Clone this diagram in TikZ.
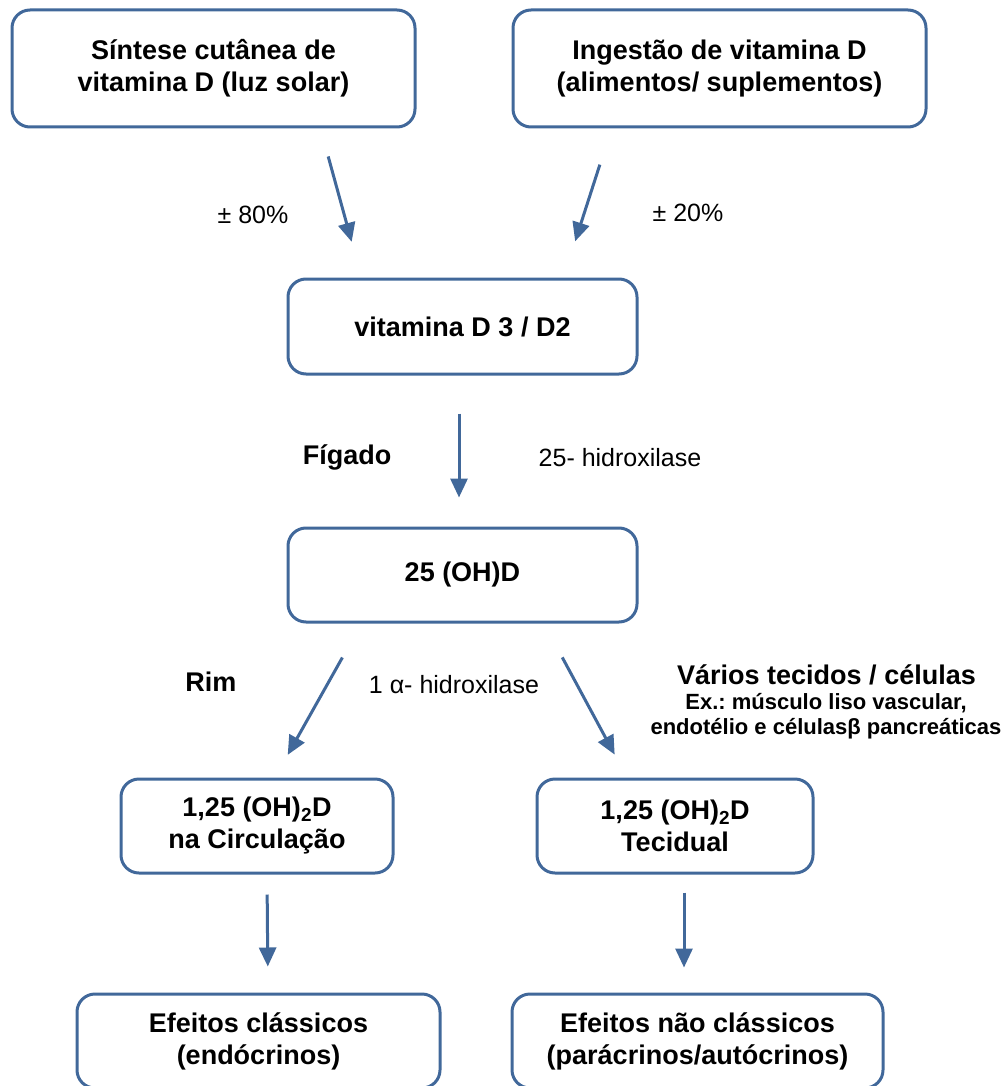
\documentclass[tikz,border=0pt]{standalone}
\usepackage{fontspec}
\setmainfont{Liberation Sans}
\usetikzlibrary{arrows.meta}
\definecolor{boxblue}{RGB}{65,104,154}
\frenchspacing
\tikzset{
	box/.style={draw=boxblue, line width=3pt, rounded corners=18pt, align=center,
		inner sep=0pt, font=\fontsize{27}{32}\selectfont\bfseries},
	arr/.style={draw=boxblue, line width=3pt, -{Triangle[length=19pt,width=17pt]}},
	lbl/.style={font=\fontsize{25}{30}\selectfont},
	blbl/.style={font=\fontsize{27}{32}\selectfont\bfseries},
}

\begin{document}
\begin{tikzpicture}[x=1pt, y=-1pt]
	\useasboundingbox (0,0) rectangle (1008,1086);
	% boxes
	\node [box, minimum width=403pt, minimum height=117pt] (sintese) at (213.5,68.5)
	{Síntese cutânea de\\vitamina D (luz solar)};
	\node [box, minimum width=413pt, minimum height=117pt] (ingestao) at (719.5,68.5)
	{Ingestão de vitamina D\\(alimentos/ suplementos)};
	\node [box, minimum width=349pt, minimum height=95pt] (vitd) at (462.5,326.5)
	{vitamina D 3 / D2};
	\node [box, minimum width=349pt, minimum height=94pt] (ohd) at (462.5,575)
	{25 (OH)D};
	\node [box, minimum width=272pt, minimum height=94pt] (circ) at (257,826)
	{1,25 (OH)\textsubscript{2}D\\na Circulação};
	\node [box, minimum width=276pt, minimum height=94pt] (tecid) at (675,826)
	{1,25 (OH)\textsubscript{2}D\\Tecidual};
	\node [box, minimum width=363pt, minimum height=94pt] (efcl) at (258.5,1041)
	{Efeitos clássicos\\(endócrinos)};
	\node [box, minimum width=371pt, minimum height=94pt] (efnc) at (697.5,1041)
	{Efeitos não clássicos\\(parácrinos/autócrinos)};
	% labels
	\node [lbl] (p80) at (253,215) {± 80\%};
	\node [lbl] (p20) at (688,213) {± 20\%};
	\node [blbl] (figado) at (347,457) {Fígado};
	\node [lbl] (hidr25) at (620,458) {25- hidroxilase};
	\node [blbl] (rim) at (211,682) {Rim};
	\node [lbl] (hidr1a) at (454,685) {1 α- hidroxilase};
	\node [blbl] (tecidos) at (826.5,675) {Vários tecidos / células};
	\node [font=\fontsize{22}{25}\selectfont\bfseries, align=center] (exemplo) at (826,716)
	{Ex.: músculo liso vascular,\\endotélio e célulasβ pancreáticas};
	% arrows
	\draw [arr, shorten <=29pt, shorten >=37pt] ([xshift=107pt]sintese.south) -- ([xshift=-101pt]vitd.north);
	\draw [arr, shorten <=38pt, shorten >=38pt] ([xshift=-108pt]ingestao.south) -- ([xshift=101pt]vitd.north);
	\draw [arr, shorten <=38pt, shorten >=29pt] ([xshift=-3.5pt]vitd.south) -- ([xshift=-3.5pt]ohd.north);
	\draw [arr, shorten <=39pt, shorten >=26pt] ([xshift=-101pt]ohd.south) -- ([xshift=18pt]circ.north);
	\draw [arr, shorten <=38.5pt, shorten >=26pt] ([xshift=81.5pt]ohd.south) -- ([xshift=-48pt]tecid.north);
	\draw [arr, shorten <=20pt, shorten >=26pt] ([xshift=10pt]circ.south) -- ([xshift=9.5pt]efcl.north);
	\draw [arr, shorten <=18pt, shorten >=25pt] ([xshift=9pt]tecid.south) -- ([xshift=-13.5pt]efnc.north);
\end{tikzpicture}
\end{document}
